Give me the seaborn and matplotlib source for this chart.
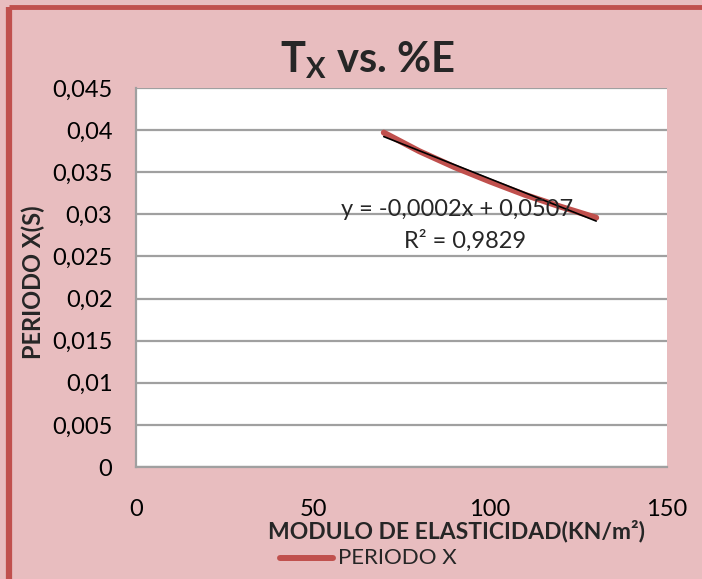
import numpy as np
import pandas as pd
import matplotlib
matplotlib.use("Agg")
import matplotlib.pyplot as plt
import seaborn as sns
from matplotlib.lines import Line2D

# data
modulo = [70, 80, 90, 100, 110, 120, 130]
periodo_x = [0.0397, 0.0375, 0.0356, 0.0339, 0.0323, 0.0309, 0.0296]
y_ticks = [0, 0.005, 0.01, 0.015, 0.02, 0.025, 0.03, 0.035, 0.04, 0.045]
x_ticks = [0, 50, 100, 150]
eq_text = "y = -0,0002x + 0,0507"
r2_text = "R² = 0,9829"

df = pd.DataFrame({"modulo": modulo, "periodo": periodo_x})

sns.set_theme(style="white")
plt.rcParams["font.family"] = ["Lato", "DejaVu Sans"]
plt.rcParams["mathtext.fontset"] = "custom"
plt.rcParams["mathtext.rm"] = "Lato"
plt.rcParams["mathtext.bf"] = "Lato:bold"

bg = "#e8bdbf"
red = "#c0504d"
grid = "#a0a0a0"

fig = plt.figure(figsize=(7.02, 5.79), dpi=100)
fig.patch.set_facecolor(bg)
W, H = 702, 579

# red frame, only top and left edges show
fig.add_artist(Line2D([8.5 / W, 1.05], [1 - 7 / H, 1 - 7 / H], transform=fig.transFigure,
                      color=red, linewidth=3.5, solid_capstyle="butt"))
fig.add_artist(Line2D([8.5 / W, 8.5 / W], [-0.05, 1 - 7 / H], transform=fig.transFigure,
                      color=red, linewidth=4.5, solid_capstyle="butt"))

ax = fig.add_axes([136 / W, 1 - 467 / H, (667 - 136) / W, (467 - 88) / H])
ax.set_facecolor("white")

sns.lineplot(data=df, x="modulo", y="periodo", ax=ax, color=red, linewidth=4.3,
             solid_capstyle="round", legend=False, zorder=3)

# linear trendline
m, b = np.polyfit(modulo, periodo_x, 1)
xt = np.array([min(modulo), max(modulo)])
ax.plot(xt, m * xt + b, color="black", linewidth=1.2, zorder=4)

ax.set_xlim(0, 150)
ax.set_ylim(0, 0.045)
ax.set_xticks(x_ticks)
ax.set_yticks(y_ticks)
ax.set_yticklabels([("%g" % v).replace(".", ",") for v in y_ticks], fontsize=17)
ax.set_xticklabels([str(v) for v in x_ticks], fontsize=17)
ax.yaxis.grid(True, color=grid, linewidth=1.6)
ax.xaxis.grid(False)
for s in ["top", "right"]:
    ax.spines[s].set_visible(False)
for s in ["left", "bottom"]:
    ax.spines[s].set_color(grid)
    ax.spines[s].set_linewidth(1.6)
ax.tick_params(axis="y", direction="out", length=6, width=1.3, color=grid, pad=11, labelcolor="black")
ax.tick_params(axis="x", direction="out", length=6, width=1.3, color=grid, pad=17, labelcolor="black")
ax.set_xlabel("")
ax.set_ylabel("")

fig.text(457 / W, 1 - 209 / H, eq_text, ha="center", va="center", fontsize=17, zorder=5)
fig.text(465 / W, 1 - 241 / H, r2_text, ha="center", va="center", fontsize=17)

fig.text(367 / W, 1 - 72 / H, r"$\mathbf{T_X}$ vs. %E", ha="center", va="baseline",
         fontsize=30, fontweight="bold")
fig.text(456 / W, 1 - 531 / H, "MODULO DE ELASTICIDAD(KN/m²)", ha="center", va="center",
         fontsize=16.5, fontweight="bold")
fig.text(33 / W, 1 - 282 / H, "PERIODO X(S)", ha="center", va="center", rotation=90,
         fontsize=17, fontweight="bold")

# legend
fig.add_artist(Line2D([280 / W, 333 / W], [1 - 558 / H, 1 - 558 / H], transform=fig.transFigure,
                      color=red, linewidth=4.3, solid_capstyle="round"))
fig.text(338 / W, 1 - 558 / H, "PERIODO X", ha="left", va="center", fontsize=16)

fig.savefig("out.png", dpi=100, facecolor=bg)
